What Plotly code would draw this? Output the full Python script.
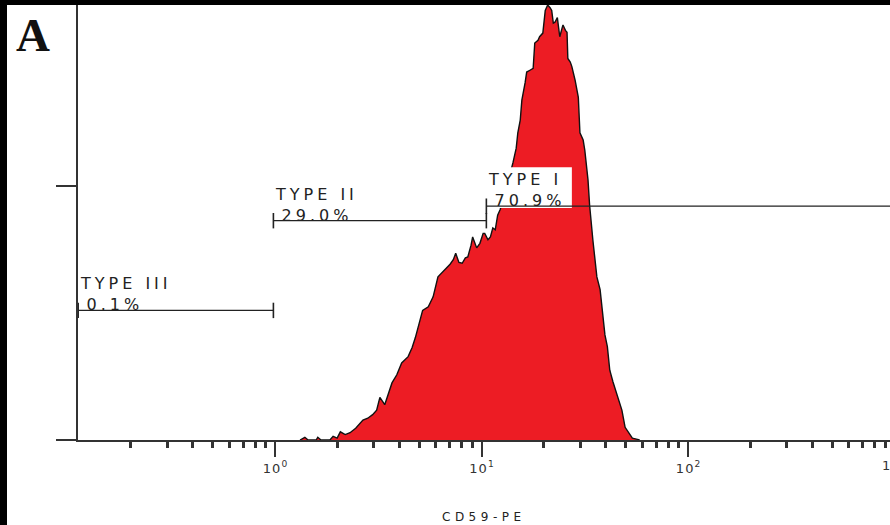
import numpy as np
import plotly.graph_objects as go

# ---- CD59-PE histogram (log amplifier: 256 channels per decade, channel 0 = 10^-1) ----
CHANNELS_PER_DECADE = 256

channel = [287, 293, 297, 307, 309, 313, 324, 328, 333, 337, 343, 349, 356, 365, 371,
           377, 382, 386, 392, 396, 401, 407, 413, 421, 426, 430, 435, 439, 446, 452,
           458, 467, 473, 477, 480, 484, 488, 492, 495, 499, 501, 506, 510, 514, 516,
           520, 523, 526, 529, 532, 535, 539, 544, 547, 551, 555, 557, 560, 562, 566,
           568, 572, 576, 578, 582, 584, 588, 591, 594, 597, 599, 601, 603, 606, 608,
           609, 612, 613, 616, 618, 619, 622, 624, 628, 632, 634, 638, 640, 644, 646,
           650, 653, 655, 659, 663, 665, 668, 671, 675, 678, 681, 684, 686, 690, 694,
           699, 704, 708]
counts = [0, 3, 0, 0, 3, 0, 0, 4, 2, 9, 6, 8, 13, 22, 24,
          28, 33, 47, 39, 49, 63, 72, 85, 92, 102, 113, 129, 143, 147, 158,
          180, 188, 194, 199, 206, 196, 195, 201, 202, 215, 224, 212, 217, 228, 228,
          221, 224, 234, 232, 248, 254, 265, 281, 292, 306, 322, 339, 353, 375, 394,
          406, 408, 410, 438, 441, 445, 449, 474, 480, 477, 474, 460, 461, 466, 452,
          445, 455, 458, 452, 450, 421, 417, 412, 397, 378, 339, 331, 320, 287, 259,
          221, 196, 180, 166, 129, 116, 103, 77, 64, 55, 47, 39, 33, 14, 9,
          2, 1, 0]

# ---- marker gates ----
gate_names = ["TYPE III", "TYPE II", "TYPE I"]
gate_pct = ["0.1%", "29.0%", "70.9%"]
gate_lo = [12, 254, 518]
gate_hi = [254, 518, 1023]
gate_level = [143, 242, 258]

# ---- axes ----
x_range_log = [-0.954, 2.978]
y_range = [0, 480]
y_ticks = [0, 280]
decades = [-1, 0, 1, 2, 3]


def to_intensity(ch):
    return 10 ** (np.asarray(ch, dtype=float) / CHANNELS_PER_DECADE - 1)


W, H = 890, 525
ML, MR, MT, MB = 78, 0, 5, 85
PW, PH = W - ML - MR, H - MT - MB

AXIS_COL = "#333333"
TEXT_COL = "#222222"
LABEL_FONT = dict(family="DejaVu Sans", size=16, color=TEXT_COL)
TICK_FONT = dict(family="DejaVu Sans", size=13, color=AXIS_COL)


def spaced(text, px):
    return f'<span style="letter-spacing:{px}px">{text}</span>'


def decade_label(d):
    return spaced("10", 1) + f"<sup>{d}</sup>"


fig = go.Figure()

fig.add_trace(go.Scatter(
    x=to_intensity(channel), y=counts,
    mode="lines", line=dict(color="#111111", width=1.4),
    fill="tozeroy", fillcolor="#ED1C24",
    hoverinfo="skip",
))

# white label plate for the gate whose label sits over the histogram
for name, lo, lvl in zip(gate_names, gate_lo, gate_level):
    if name != "TYPE I":
        continue
    bx = to_intensity([lo - 5, lo + 106, lo + 106, lo - 5, lo - 5])
    by = [lvl - 2, lvl - 2, lvl + 43, lvl + 43, lvl - 2]
    fig.add_trace(go.Scatter(
        x=bx, y=by, mode="lines", fill="toself", fillcolor="white",
        line=dict(width=0, color="white"), hoverinfo="skip",
    ))

for lo, hi, lvl in zip(gate_lo, gate_hi, gate_level):
    fig.add_trace(go.Scatter(
        x=to_intensity([lo, hi]), y=[lvl, lvl],
        mode="lines+markers",
        line=dict(color="#222222", width=1.3),
        marker=dict(symbol="line-ns", size=11,
                    line=dict(color="#222222", width=1.6)),
        hoverinfo="skip",
    ))

annotations = []
for name, pct, lo, lvl in zip(gate_names, gate_pct, gate_lo, gate_level):
    annotations.append(dict(
        x=np.log10(to_intensity(lo)), y=lvl, xref="x", yref="y",
        text=spaced(name, 4) + "<br>" + spaced("\u200a" + pct, 4),
        showarrow=False, align="left",
        xanchor="left", yanchor="bottom", xshift=-1, yshift=-7,
        font=LABEL_FONT, borderpad=2,
    ))

# decade label that sits just past the right end of the axis
last_dec = decades[-1]
annotations.append(dict(
    x=(last_dec - x_range_log[0]) / (x_range_log[1] - x_range_log[0]), y=0,
    xref="paper", yref="paper", yanchor="top", xanchor="center", yshift=-15,
    text=decade_label(last_dec), showarrow=False,
    font=TICK_FONT,
))

# axis title
annotations.append(dict(
    x=0.5, y=-(517 - (H - MB)) / PH, xref="paper", yref="paper",
    xanchor="center", yanchor="middle",
    text=spaced("CD59-PE", 4.5), showarrow=False,
    font=dict(family="DejaVu Sans", size=12, color=TEXT_COL),
))

# panel letter
annotations.append(dict(
    x=(33 - ML) / PW, y=((H - MB) - 35) / PH, xref="paper", yref="paper",
    xanchor="center", yanchor="middle", text="<b>A</b>", showarrow=False,
    font=dict(family="Liberation Serif", size=47, color="#111111"),
))

# black frame strips on the left and top edges
shapes = [
    dict(type="rect", xref="paper", yref="paper", layer="above",
         x0=-ML / PW, x1=(7 - ML) / PW, y0=-MB / PH, y1=1 + MT / PH,
         fillcolor="black", line=dict(width=0)),
    dict(type="rect", xref="paper", yref="paper", layer="above",
         x0=-ML / PW, x1=1 + MR / PW, y0=1, y1=1 + MT / PH,
         fillcolor="black", line=dict(width=0)),
]

major_vals = [10.0 ** d for d in decades[:-1]]
major_text = [decade_label(d) for d in decades[:-1]]
minor_vals = [m * 10.0 ** d for d in decades[:-1] for m in range(2, 10)]

fig.update_layout(
    width=W, height=H,
    margin=dict(l=ML, r=MR, t=MT, b=MB),
    paper_bgcolor="white", plot_bgcolor="white",
    showlegend=False,
    annotations=annotations,
    shapes=shapes,
    xaxis=dict(
        type="log", range=x_range_log,
        showline=True, linecolor=AXIS_COL, linewidth=2,
        showgrid=False, zeroline=False,
        tickmode="array", tickvals=major_vals, ticktext=major_text,
        ticks="outside", ticklen=15, tickwidth=2.2, tickcolor=AXIS_COL,
        tickfont=TICK_FONT,
        minor=dict(tickmode="array", tickvals=minor_vals, ticks="outside",
                   ticklen=6, tickwidth=2.5, tickcolor=AXIS_COL, showgrid=False),
    ),
    yaxis=dict(
        range=y_range,
        showline=True, linecolor=AXIS_COL, linewidth=2,
        showgrid=False, zeroline=False,
        tickmode="array", tickvals=y_ticks, showticklabels=False,
        ticks="outside", ticklen=20, tickwidth=1.5, tickcolor=AXIS_COL,
    ),
)

fig.write_html("out.html")
